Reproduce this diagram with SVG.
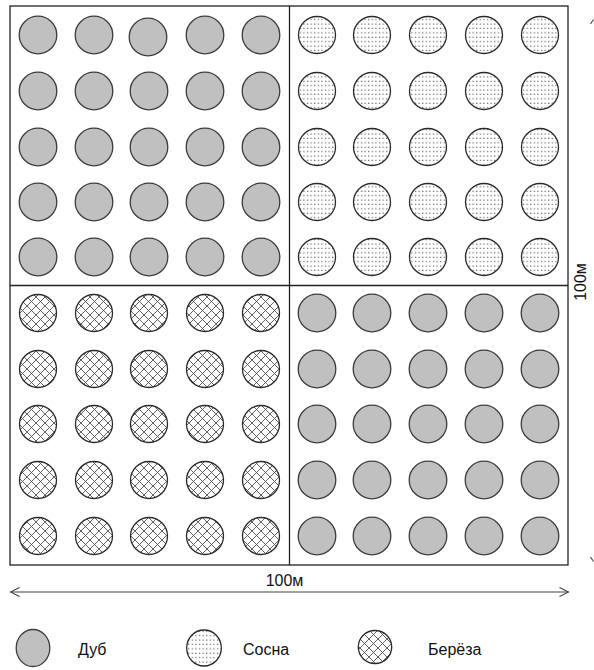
<svg xmlns="http://www.w3.org/2000/svg" width="594" height="670" viewBox="0 0 594 670">
<defs>
<pattern id="dots" patternUnits="userSpaceOnUse" width="3.6" height="4.4">
<rect x="1" y="1.5" width="1.1" height="1.1" fill="#444"/>
</pattern>
<pattern id="hatch" patternUnits="userSpaceOnUse" width="9" height="9">
<path d="M0 0L9 9M9 0L0 9M-1 8L1 10M8 -1L10 1M-1 1L1 -1M8 10L10 8" stroke="#505050" stroke-width="0.9" fill="none"/>
</pattern>
</defs>
<style>
.oak{fill:#c0c0c0;stroke:#3c3c3c;stroke-width:1.3}
.pine{fill:url(#dots);stroke:#2a2a2a;stroke-width:1.3}
.birch{fill:url(#hatch);stroke:#2a2a2a;stroke-width:1.3}
.frame{fill:none;stroke:#222;stroke-width:1.3}
.lbl{font-family:"Liberation Sans",Arial,sans-serif;font-size:16px;fill:#111}
.arr{fill:none;stroke:#444;stroke-width:1.1}
</style>
<rect fill="#fff" width="594" height="670"/>
<g id="plot">
<rect class="frame" x="10" y="6" width="558" height="559"/>
<line class="frame" x1="289.5" y1="6" x2="289.5" y2="565"/>
<line class="frame" x1="10" y1="285.5" x2="568" y2="285.5" stroke="#555"/>
</g>
<g id="oak-nw">
<circle class="oak" cx="38" cy="35" r="18.8"/><circle class="oak" cx="94" cy="35" r="18.8"/><circle class="oak" cx="148" cy="37" r="18.8"/><circle class="oak" cx="205" cy="35" r="18.8"/><circle class="oak" cx="261" cy="35" r="18.8"/>
<circle class="oak" cx="38" cy="91" r="18.8"/><circle class="oak" cx="94" cy="91" r="18.8"/><circle class="oak" cx="149" cy="91" r="18.8"/><circle class="oak" cx="205" cy="91" r="18.8"/><circle class="oak" cx="261" cy="91" r="18.8"/>
<circle class="oak" cx="38" cy="147" r="18.8"/><circle class="oak" cx="94" cy="147" r="18.8"/><circle class="oak" cx="149" cy="147" r="18.8"/><circle class="oak" cx="205" cy="147" r="18.8"/><circle class="oak" cx="261" cy="147" r="18.8"/>
<circle class="oak" cx="38" cy="202" r="18.8"/><circle class="oak" cx="94" cy="202" r="18.8"/><circle class="oak" cx="149" cy="202" r="18.8"/><circle class="oak" cx="205" cy="202" r="18.8"/><circle class="oak" cx="261" cy="202" r="18.8"/>
<circle class="oak" cx="38" cy="257" r="18.8"/><circle class="oak" cx="94" cy="257" r="18.8"/><circle class="oak" cx="149" cy="257" r="18.8"/><circle class="oak" cx="205" cy="257" r="18.8"/><circle class="oak" cx="261" cy="257" r="18.8"/>
</g>
<g id="pine-ne">
<circle class="pine" cx="317" cy="35" r="18.5"/><circle class="pine" cx="372" cy="35" r="18.5"/><circle class="pine" cx="428" cy="35" r="18.5"/><circle class="pine" cx="484" cy="35" r="18.5"/><circle class="pine" cx="540" cy="35" r="18.5"/>
<circle class="pine" cx="317" cy="91" r="18.5"/><circle class="pine" cx="372" cy="91" r="18.5"/><circle class="pine" cx="428" cy="91" r="18.5"/><circle class="pine" cx="484" cy="91" r="18.5"/><circle class="pine" cx="540" cy="91" r="18.5"/>
<circle class="pine" cx="317" cy="147" r="18.5"/><circle class="pine" cx="372" cy="147" r="18.5"/><circle class="pine" cx="428" cy="147" r="18.5"/><circle class="pine" cx="484" cy="147" r="18.5"/><circle class="pine" cx="540" cy="147" r="18.5"/>
<circle class="pine" cx="317" cy="202" r="18.5"/><circle class="pine" cx="372" cy="202" r="18.5"/><circle class="pine" cx="428" cy="202" r="18.5"/><circle class="pine" cx="484" cy="202" r="18.5"/><circle class="pine" cx="540" cy="202" r="18.5"/>
<circle class="pine" cx="317" cy="257" r="18.5"/><circle class="pine" cx="372" cy="257" r="18.5"/><circle class="pine" cx="428" cy="257" r="18.5"/><circle class="pine" cx="484" cy="257" r="18.5"/><circle class="pine" cx="540" cy="257" r="18.5"/>
</g>
<g id="birch-sw">
<circle class="birch" cx="38" cy="313" r="18.5"/><circle class="birch" cx="94" cy="313" r="18.5"/><circle class="birch" cx="149" cy="313" r="18.5"/><circle class="birch" cx="205" cy="313" r="18.5"/><circle class="birch" cx="261" cy="313" r="18.5"/>
<circle class="birch" cx="38" cy="369" r="18.5"/><circle class="birch" cx="94" cy="369" r="18.5"/><circle class="birch" cx="149" cy="369" r="18.5"/><circle class="birch" cx="205" cy="369" r="18.5"/><circle class="birch" cx="261" cy="369" r="18.5"/>
<circle class="birch" cx="38" cy="424" r="18.5"/><circle class="birch" cx="94" cy="424" r="18.5"/><circle class="birch" cx="149" cy="424" r="18.5"/><circle class="birch" cx="205" cy="424" r="18.5"/><circle class="birch" cx="261" cy="424" r="18.5"/>
<circle class="birch" cx="38" cy="480" r="18.5"/><circle class="birch" cx="94" cy="480" r="18.5"/><circle class="birch" cx="149" cy="480" r="18.5"/><circle class="birch" cx="205" cy="480" r="18.5"/><circle class="birch" cx="261" cy="480" r="18.5"/>
<circle class="birch" cx="38" cy="536" r="18.5"/><circle class="birch" cx="94" cy="536" r="18.5"/><circle class="birch" cx="149" cy="536" r="18.5"/><circle class="birch" cx="205" cy="536" r="18.5"/><circle class="birch" cx="261" cy="536" r="18.5"/>
</g>
<g id="oak-se">
<circle class="oak" cx="317" cy="313" r="18.8"/><circle class="oak" cx="372" cy="313" r="18.8"/><circle class="oak" cx="428" cy="313" r="18.8"/><circle class="oak" cx="484" cy="313" r="18.8"/><circle class="oak" cx="540" cy="313" r="18.8"/>
<circle class="oak" cx="317" cy="369" r="18.8"/><circle class="oak" cx="372" cy="369" r="18.8"/><circle class="oak" cx="428" cy="369" r="18.8"/><circle class="oak" cx="484" cy="369" r="18.8"/><circle class="oak" cx="540" cy="369" r="18.8"/>
<circle class="oak" cx="317" cy="424" r="18.8"/><circle class="oak" cx="372" cy="424" r="18.8"/><circle class="oak" cx="428" cy="424" r="18.8"/><circle class="oak" cx="484" cy="424" r="18.8"/><circle class="oak" cx="540" cy="424" r="18.8"/>
<circle class="oak" cx="317" cy="480" r="18.8"/><circle class="oak" cx="372" cy="480" r="18.8"/><circle class="oak" cx="428" cy="480" r="18.8"/><circle class="oak" cx="484" cy="480" r="18.8"/><circle class="oak" cx="540" cy="480" r="18.8"/>
<circle class="oak" cx="317" cy="536" r="18.8"/><circle class="oak" cx="372" cy="536" r="18.8"/><circle class="oak" cx="428" cy="536" r="18.8"/><circle class="oak" cx="484" cy="536" r="18.8"/><circle class="oak" cx="540" cy="536" r="18.8"/>
</g>
<g id="connectors">
<line class="arr" x1="10.5" y1="592" x2="568.5" y2="592"/>
<path class="arr" d="M19.5 587.5L10.5 592L19.5 596.5"/>
<path class="arr" d="M559.5 587.5L568.5 592L559.5 596.5"/>
<path class="arr" d="M590.5 24L593.5 19.5"/>
<path class="arr" d="M590.5 557L593.5 561.5"/>
</g>
<g id="dim-labels">
<text class="lbl" x="284.5" y="586" text-anchor="middle">100м</text>
<text class="lbl" transform="translate(586 282) rotate(-90)" text-anchor="middle">100м</text>
</g>
<g id="legend-oak">
<ellipse class="oak" cx="33" cy="648" rx="16.8" ry="18.5"/>
<text class="lbl" x="78" y="655">Дуб</text>
</g>
<g id="legend-pine">
<ellipse class="pine" cx="204" cy="648" rx="17.3" ry="18"/>
<text class="lbl" x="243" y="655">Сосна</text>
</g>
<g id="legend-birch">
<ellipse class="birch" cx="375" cy="647" rx="16.7" ry="16.5"/>
<text class="lbl" x="428" y="655">Берёза</text>
</g>
</svg>
